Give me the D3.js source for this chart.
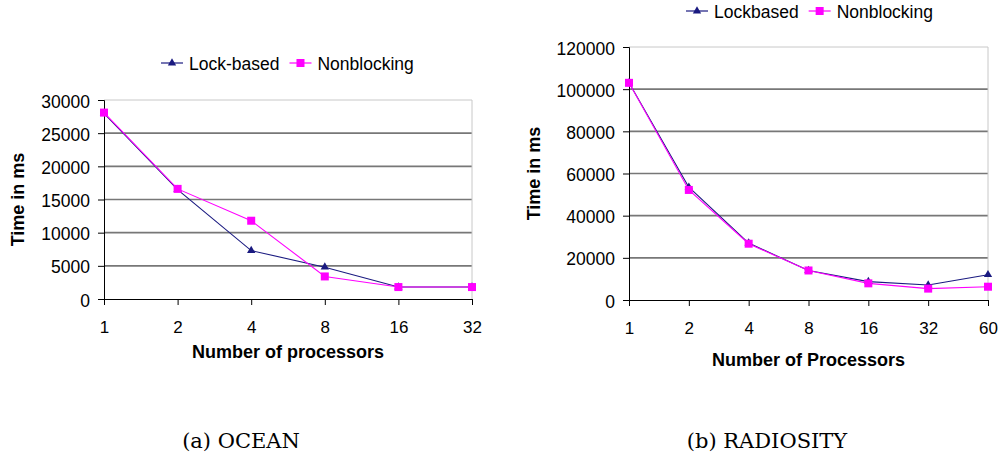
<!DOCTYPE html>
<html>
<head>
<meta charset="utf-8">
<script src="https://cdn.jsdelivr.net/npm/d3@7"></script>
<style>
body { margin: 0; background: #fff; }
svg text { font-family: Arial, "Liberation Sans", sans-serif; fill: #000; }
</style>
</head>
<body>
<svg id="fig" width="1001" height="459"></svg>
<script>
// ---- data ----
var oceanProcs = ["1", "2", "4", "8", "16", "32"];
var oceanLock = [28000, 16500, 7300, 4800, 1800, 1800];
var oceanNonblocking = [28100, 16600, 11800, 3400, 1800, 1800];
var oceanTicks = [0, 5000, 10000, 15000, 20000, 25000, 30000];

var radProcs = ["1", "2", "4", "8", "16", "32", "60"];
var radLock = [103000, 53500, 27000, 14000, 8700, 7100, 12000];
var radNonblocking = [103000, 52200, 26700, 14000, 7900, 5400, 6300];
var radTicks = [0, 20000, 40000, 60000, 80000, 100000, 120000];

var lockColor = "#1a1a80", nbColor = "#ff00ff";

var svg = d3.select("#fig");

function drawChart(c) {
	var g = svg.append("g");
	var x = d3.scalePoint().domain(c.procs).range([c.left, c.right]);
	var y = d3.scaleLinear().domain([0, d3.max(c.ticks)]).range([c.bottom, c.top]);

	// grid
	g.selectAll("line.grid").data(c.ticks.slice(1)).enter().append("line")
		.attr("x1", c.left).attr("x2", c.right)
		.attr("y1", d => y(d)).attr("y2", d => y(d))
		.attr("stroke", (d, i) => i == c.ticks.length - 2 ? "#c8c8c8" : "#777")
		.attr("stroke-width", (d, i) => i == c.ticks.length - 2 ? 1 : 1.7);
	g.append("line").attr("x1", c.right).attr("x2", c.right)
		.attr("y1", c.top).attr("y2", c.bottom).attr("stroke", "#c8c8c8");

	// axes
	var yAxis = g.append("g").attr("transform", "translate(" + c.left + ",0)")
		.call(d3.axisLeft(y).tickValues(c.ticks).tickSize(6).tickPadding(8).tickFormat(d3.format("d")));
	yAxis.selectAll("text").style("font-size", "17.5px").attr("dy", "0.4em");
	var xAxis = g.append("g").attr("transform", "translate(0," + c.bottom + ")")
		.call(d3.axisBottom(x).tickSize(6).tickPadding(c.xPad));
	xAxis.selectAll("text").style("font-size", "17px");
	g.selectAll(".domain, .tick line").attr("stroke", "#000");

	g.append("text")
		.attr("transform", "translate(" + c.yTitleX + "," + (c.top + c.bottom) / 2 + ") rotate(-90)")
		.attr("text-anchor", "middle").style("font-size", "18px").style("font-weight", "bold")
		.text("Time in ms");
	g.append("text").attr("x", (c.left + c.right) / 2).attr("y", c.xTitleY)
		.attr("text-anchor", "middle").style("font-size", "18px").style("font-weight", "bold")
		.text(c.xTitle);

	// series
	var line = d3.line().x((d, i) => x(c.procs[i])).y(d => y(d));
	g.append("path").datum(c.lock).attr("d", line).attr("fill", "none")
		.attr("stroke", lockColor).attr("stroke-width", 1.1);
	g.append("path").datum(c.nb).attr("d", line).attr("fill", "none")
		.attr("stroke", nbColor).attr("stroke-width", 1.1);
	var tri = d3.symbol().type(d3.symbolTriangle).size(30);
	g.selectAll("path.tri").data(c.lock).enter().append("path")
		.attr("d", tri).attr("fill", lockColor)
		.attr("transform", (d, i) => "translate(" + x(c.procs[i]) + "," + y(d) + ")");
	g.selectAll("rect.sq").data(c.nb).enter().append("rect")
		.attr("x", (d, i) => x(c.procs[i]) - 4).attr("y", d => y(d) - 4)
		.attr("width", 8).attr("height", 8).attr("fill", nbColor);

	// legend
	var items = [[c.lockName, lockColor, "tri"], ["Nonblocking", nbColor, "sq"]];
	var lx = c.legendX;
	items.forEach(function(it) {
		var lg = g.append("g").attr("transform", "translate(" + lx + "," + c.legendY + ")");
		lg.append("line").attr("x1", 0).attr("x2", 22).attr("y1", 0).attr("y2", 0)
			.attr("stroke", it[1]).attr("stroke-width", 1.2);
		if (it[2] == "tri") lg.append("path").attr("d", tri).attr("fill", it[1]).attr("transform", "translate(11,0)");
		else lg.append("rect").attr("x", 7).attr("y", -4).attr("width", 8).attr("height", 8).attr("fill", it[1]);
		var t = lg.append("text").attr("x", 28).attr("y", 6.5).style("font-size", "17.5px").text(it[0]);
		lx += 28 + t.node().getComputedTextLength() + 10;
	});

	svg.append("text").attr("x", c.capX).attr("y", 448).attr("text-anchor", "middle")
		.style("font-family", "'DejaVu Serif', serif").style("font-size", "21px")
		.text(c.caption);
}

drawChart({
	procs: oceanProcs, lock: oceanLock, nb: oceanNonblocking, ticks: oceanTicks,
	left: 104, right: 472, top: 100, bottom: 299, xPad: 16,
	yTitleX: 24, xTitle: "Number of processors", xTitleY: 358,
	lockName: "Lock-based", legendX: 161, legendY: 63,
	caption: "(a) OCEAN", capX: 241
});

drawChart({
	procs: radProcs, lock: radLock, nb: radNonblocking, ticks: radTicks,
	left: 629, right: 988, top: 47, bottom: 300, xPad: 16,
	yTitleX: 540, xTitle: "Number of Processors", xTitleY: 366,
	lockName: "Lockbased", legendX: 686, legendY: 11,
	caption: "(b) RADIOSITY", capX: 767
});
</script>
</body>
</html>
